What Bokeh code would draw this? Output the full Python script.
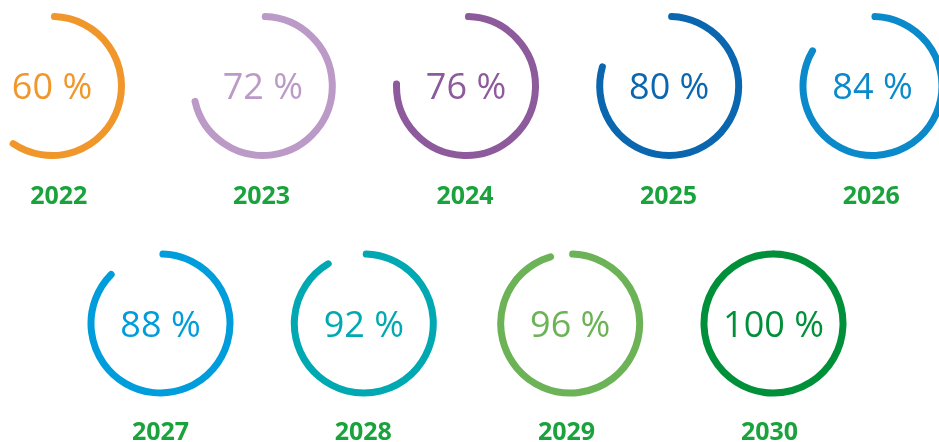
import math
from bokeh.plotting import figure
from bokeh.models import Range1d, ColumnDataSource
from bokeh.embed import file_html
from bokeh.resources import INLINE
from bokeh.core.properties import value

# ---- data ----
years = ["2022", "2023", "2024", "2025", "2026", "2027", "2028", "2029", "2030"]
shares = [60, 72, 76, 80, 84, 88, 92, 96, 100]
ring_colors = ["#F0962A", "#BC9AC7", "#8D5A9C", "#0A66AE", "#0B8ACB",
               "#009DDC", "#00A9B1", "#6BB356", "#00903A"]
year_color = "#1AA33C"

# ---- layout (picture pixel grid, y measured from the top) ----
W, H = 939, 442
ring_x = [51.5, 262.3, 465.5, 668.7, 872.0, 160.0, 363.3, 569.7, 773.0]
ring_y = [85.5] * 5 + [323.0] * 4
pct_mid = [84.5] * 5 + [322.5] * 4
year_x = [58.3, 261.0, 464.5, 668.0, 870.8, 160.0, 362.8, 566.0, 769.0]
year_mid = [194.0] * 5 + [430.0] * 4
R = 69.5
GAP = math.radians(2.0)

starts, ends = [], []
for s in shares:
    if s >= 100:
        starts.append(math.pi / 2)
        ends.append(math.pi / 2 - 2 * math.pi + 0.002)
    else:
        starts.append(math.pi / 2 - GAP)
        ends.append(math.pi / 2 - s / 100 * 2 * math.pi + GAP)

src = ColumnDataSource(dict(
    x=ring_x, y=[H - v for v in ring_y], start=starts, end=ends,
    color=ring_colors, pct=[f"{s} %" for s in shares],
    py=[H - v for v in pct_mid],
    yx=year_x, yy=[H - v for v in year_mid], year=years,
))

p = figure(width=W, height=H, output_backend="svg", toolbar_location=None,
           x_range=Range1d(0, W), y_range=Range1d(0, H),
           min_border=0, outline_line_color=None)
p.axis.visible = False
p.grid.visible = False
p.background_fill_color = "white"
p.border_fill_color = "white"
p.styles = {"position": "fixed", "left": "0px", "top": "0px"}

p.arc(x="x", y="y", radius=R, start_angle="start", end_angle="end",
      direction="clock", line_color="color", line_width=7,
      line_cap="round", source=src)

p.text(x="x", y="py", text="pct", text_color="color",
       text_font=value("Open Sans"), text_font_size="36px",
       text_align="center", text_baseline="middle", source=src)

p.text(x="yx", y="yy", text="year", text_color=year_color,
       text_font=value("Open Sans"), text_font_size="25px",
       text_font_style="bold",
       text_align="center", text_baseline="middle", source=src)

open("out.html", "w").write(file_html(p, INLINE))
